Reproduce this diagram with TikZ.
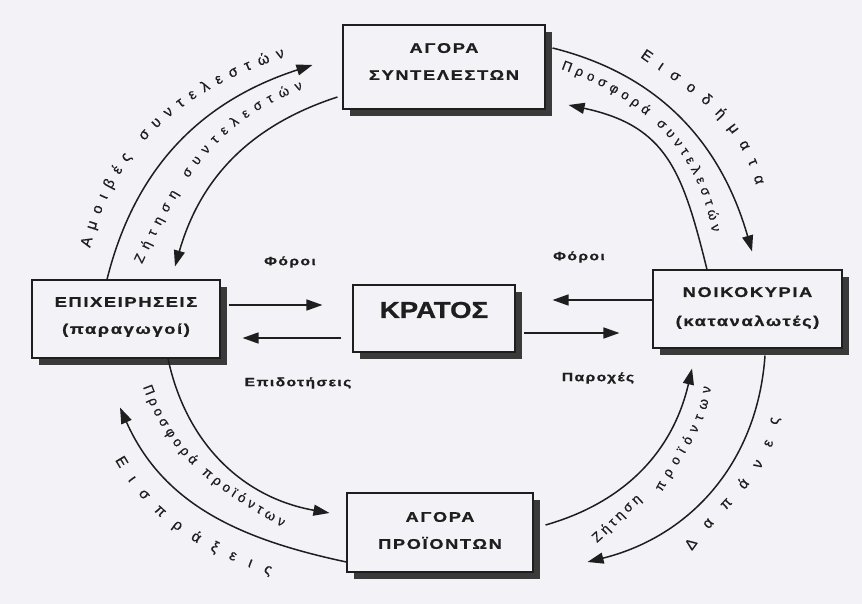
\documentclass[tikz,border=0pt]{standalone}
\usepackage{fontspec}
\setmainfont{Liberation Sans}
\newfontfamily\boxfont[FakeStretch=1.3,LetterSpace=12,FakeBold=1]{Liberation Sans Bold}
\newfontfamily\bigfont[FakeStretch=1.2,FakeBold=1]{Liberation Sans Bold}
\newfontfamily\arcfont[FakeBold=0.6]{Liberation Sans}
\usetikzlibrary{decorations.text,arrows.meta,shadows}
\definecolor{bgc}{RGB}{243,242,246}
\definecolor{ink}{RGB}{30,30,30}
\definecolor{shd}{RGB}{58,58,58}
\newcommand\bxf{\boxfont\fontsize{14}{27}\selectfont}
\newcommand\bxg{\boxfont\fontsize{14}{29}\selectfont}
\newcommand\lbf{\boxfont\fontsize{12}{14}\selectfont}
\newcommand\arcL{\arcfont\fontsize{15}{17}\selectfont}
\newcommand\arcM{\arcfont\fontsize{13.5}{16}\selectfont}
\begin{document}
\begin{tikzpicture}[x=1pt,y=1pt,
  box/.style={draw=ink,line width=1.1pt,fill=bgc,inner sep=0pt,
     drop shadow={shadow xshift=7pt,shadow yshift=-7pt,fill=shd,opacity=1}},
  boxtext/.style={text=ink,align=center,inner sep=0pt},
  flow/.style={draw=ink,line width=1.5pt,-{Triangle[length=16pt,width=11pt]}},
  lbl/.style={text=ink,inner sep=0pt,font=\lbf},
  along/.style={decorate,decoration={text along path,text color=ink,text align=fit to path,text={#1}}}
]
\fill[bgc] (0,0) rectangle (862,-604);
\useasboundingbox (0,0) rectangle (862,-604);

% boxes
\node[box,minimum width=202pt,minimum height=84pt] (AS) at (444,-67) {};
\node[box,minimum width=188pt,minimum height=78pt] (EP) at (126,-319) {};
\node[box,minimum width=189pt,minimum height=78pt] (NO) at (747.5,-309) {};
\node[box,minimum width=162pt,minimum height=67pt] (KR) at (434,-318.5) {};
\node[box,minimum width=186pt,minimum height=79pt] (AP) at (440,-532.5) {};

\node[boxtext,font=\bxf] (AStext) at (444,-61.5) {ΑΓΟΡΑ\\ΣΥΝΤΕΛΕΣΤΩΝ};
\node[boxtext,font=\bxf] (EPtext) at (126,-317) {ΕΠΙΧΕΙΡΗΣΕΙΣ\\(παραγωγοί)};
\node[boxtext,font=\bxg] (NOtext) at (747.5,-308) {ΝΟΙΚΟΚΥΡΙΑ\\(καταναλωτές)};
\node[boxtext,font={\bigfont\fontsize{23}{26}\selectfont}] (KRtext) at (434,-310) {ΚΡΑΤΟΣ};
\node[boxtext,font=\bxf] (APtext) at (440,-530.5) {ΑΓΟΡΑ\\ΠΡΟΪΟΝΤΩΝ};

% straight flows
\draw[flow] ([xshift=8pt,yshift=14pt]EP.east) -- ([xshift=-30pt,yshift=13.5pt]KR.west);
\draw[flow] ([xshift=-11pt,yshift=-19.5pt]KR.west) -- ([xshift=22pt,yshift=-19pt]EP.east);
\draw[flow] ([yshift=9pt]NO.west) -- ([xshift=37pt,yshift=18.5pt]KR.east);
\draw[flow] ([xshift=8pt,yshift=-14.5pt]KR.east) -- ([xshift=-33pt,yshift=-24pt]NO.west);

\node[lbl] (tax1) at (290,-262) {Φόροι};
\node[lbl] (sub) at (298,-383) {Επιδοτήσεις};
\node[lbl] (tax2) at (579,-257) {Φόροι};
\node[lbl] (ben) at (598,-378) {Παροχές};

% curved flows
\draw[flow] ([xshift=-19pt]EP.north) to[out=76,in=198] ([xshift=-30pt,yshift=2pt]AS.west);
\draw[flow] ([xshift=-5pt,yshift=-30pt]AS.west) to[out=198,in=74] ([xshift=49pt,yshift=13pt]EP.north);
\draw[flow] ([xshift=7pt,yshift=19pt]AS.east) to[out=-14,in=106] ([xshift=4.5pt,yshift=18pt]NO.north);
\draw[flow] ([xshift=-40.5pt]NO.north) to[out=104,in=-12,looseness=1.2] ([xshift=23pt,yshift=-38pt]AS.east);
\draw[flow] ([xshift=42pt]EP.south) to[out=-78,in=170] ([xshift=-17pt,yshift=19.5pt]AP.west);
\draw[flow] ([yshift=-29.5pt]AP.west) to[out=168,in=294] ([xshift=-6pt,yshift=-49pt]EP.south);
\draw[flow] ([xshift=12pt,yshift=7.5pt]AP.east) to[out=16,in=257] ([xshift=-55.5pt,yshift=-20pt]NO.south);
\draw[flow] ([xshift=17.5pt,yshift=-7pt]NO.south) to[out=266,in=14] ([xshift=54pt,yshift=-29.5pt]AP.east);

% curved labels
\path[along={|\arcL|Αμοιβές συντελεστών}] (90,-248) to[out=76,in=198] (285,-57);
\path[along={|\arcM|Ζήτηση συντελεστών}] (142,-264) to[out=65,in=200] (303,-89);
\path[along={|\arcL|Εισοδήματα}] (640,-57) to[out=-35,in=105] (756,-185);
\path[along={|\arcM|Προσφορά συντελεστών}] (561,-69) to[out=-20,in=100] (712,-232);
\path[along={|\arcM|Προσφορά προϊόντων}] (143,-387) to[out=-70,in=150] (282,-527);
\path[along={|\arcL|Εισπράξεις}] (115,-460) to[out=-60,in=160] (270,-575);
\path[along={|\arcM|Ζήτηση}] (597,-543) to[out=42,in=222] (642,-500);
\path[along={|\arcM|προϊόντων}] (662,-492) to[out=62,in=262] (711,-387);
\path[along={|\arcL|Δαπάνες}] (692,-551) to[out=55,in=262] (779,-418);
\end{tikzpicture}
\end{document}
